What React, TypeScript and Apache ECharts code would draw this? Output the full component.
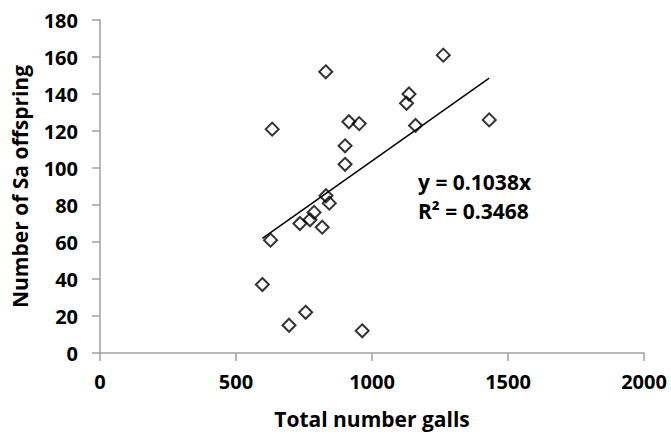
import React, { useEffect, useRef } from "react";
import * as echarts from "echarts";

const gallsX = [597, 627, 633, 695, 735, 756, 772, 787, 817, 831, 843, 830, 901, 901, 915, 953, 964, 1127, 1136, 1160, 1262, 1431];
const offspringY = [37, 61, 121, 15, 70, 22, 72, 76, 68, 85, 81, 152, 102, 112, 125, 124, 12, 135, 140, 123, 161, 126];
const slope = 0.1038;
const rSquared = "0.3468";
const xTicks = { min: 0, max: 2000, interval: 500 };
const yTicks = { min: 0, max: 180, interval: 20 };

const FONT = "'Open Sans', Lato, sans-serif";

export default function App() {
  const ref = useRef<HTMLDivElement>(null);
  useEffect(() => {
    if (!ref.current) return;
    const chart = echarts.init(ref.current, undefined, { renderer: "svg" });
    const pts = gallsX.map((x, i) => [x, offspringY[i]]);
    const xMin = Math.min(...gallsX);
    const xMax = Math.max(...gallsX);
    const trend = [
      [xMin, slope * xMin],
      [xMax, slope * xMax],
    ];
    const axisLine = { show: true, lineStyle: { color: "#a0a0a0", width: 1.5 } };
    const axisTick = { show: true, length: 8, lineStyle: { color: "#a0a0a0", width: 1.5 } };
    chart.setOption({
      animation: false,
      backgroundColor: "#fff",
      grid: { left: 100, right: 27, top: 20, bottom: 81, containLabel: false },
      xAxis: {
        type: "value",
        ...xTicks,
        name: "Total number galls",
        nameLocation: "middle",
        nameGap: 55,
        nameTextStyle: { fontFamily: FONT, fontWeight: "bold", fontSize: 21, color: "#000" },
        axisLine,
        axisTick,
        splitLine: { show: false },
        axisLabel: {
          fontFamily: FONT,
          fontWeight: "bold",
          fontSize: 20,
          color: "#000",
          margin: 18,
          formatter: (v: number) => String(v),
        },
      },
      yAxis: {
        type: "value",
        ...yTicks,
        name: "Number of Sa offspring",
        nameLocation: "middle",
        nameGap: 70,
        nameTextStyle: { fontFamily: FONT, fontWeight: "bold", fontSize: 21, color: "#000" },
        axisLine,
        axisTick,
        splitLine: { show: false },
        axisLabel: {
          fontFamily: FONT,
          fontWeight: "bold",
          fontSize: 20,
          color: "#000",
          margin: 22,
          formatter: (v: number) => String(v),
        },
      },
      graphic: [
        {
          type: "text",
          left: 418,
          top: 167,
          style: {
            text: "y = 0.1038x\nR² = " + rSquared,
            fontFamily: FONT,
            fontWeight: "bold",
            fontSize: 21,
            lineHeight: 29,
            fill: "#000",
          },
        },
      ],
      series: [
        {
          type: "line",
          data: trend,
          symbol: "none",
          lineStyle: { color: "#000", width: 1.5 },
          z: 1,
        },
        {
          type: "scatter",
          data: pts,
          symbol: "diamond",
          symbolSize: [13, 13],
          itemStyle: { color: "transparent", borderColor: "#000", borderWidth: 2 },
          z: 2,
        },
      ],
    });
    return () => chart.dispose();
  }, []);
  return <div ref={ref} style={{ width: 671, height: 434, position: "absolute", left: 0, top: 0 }} />;
}
